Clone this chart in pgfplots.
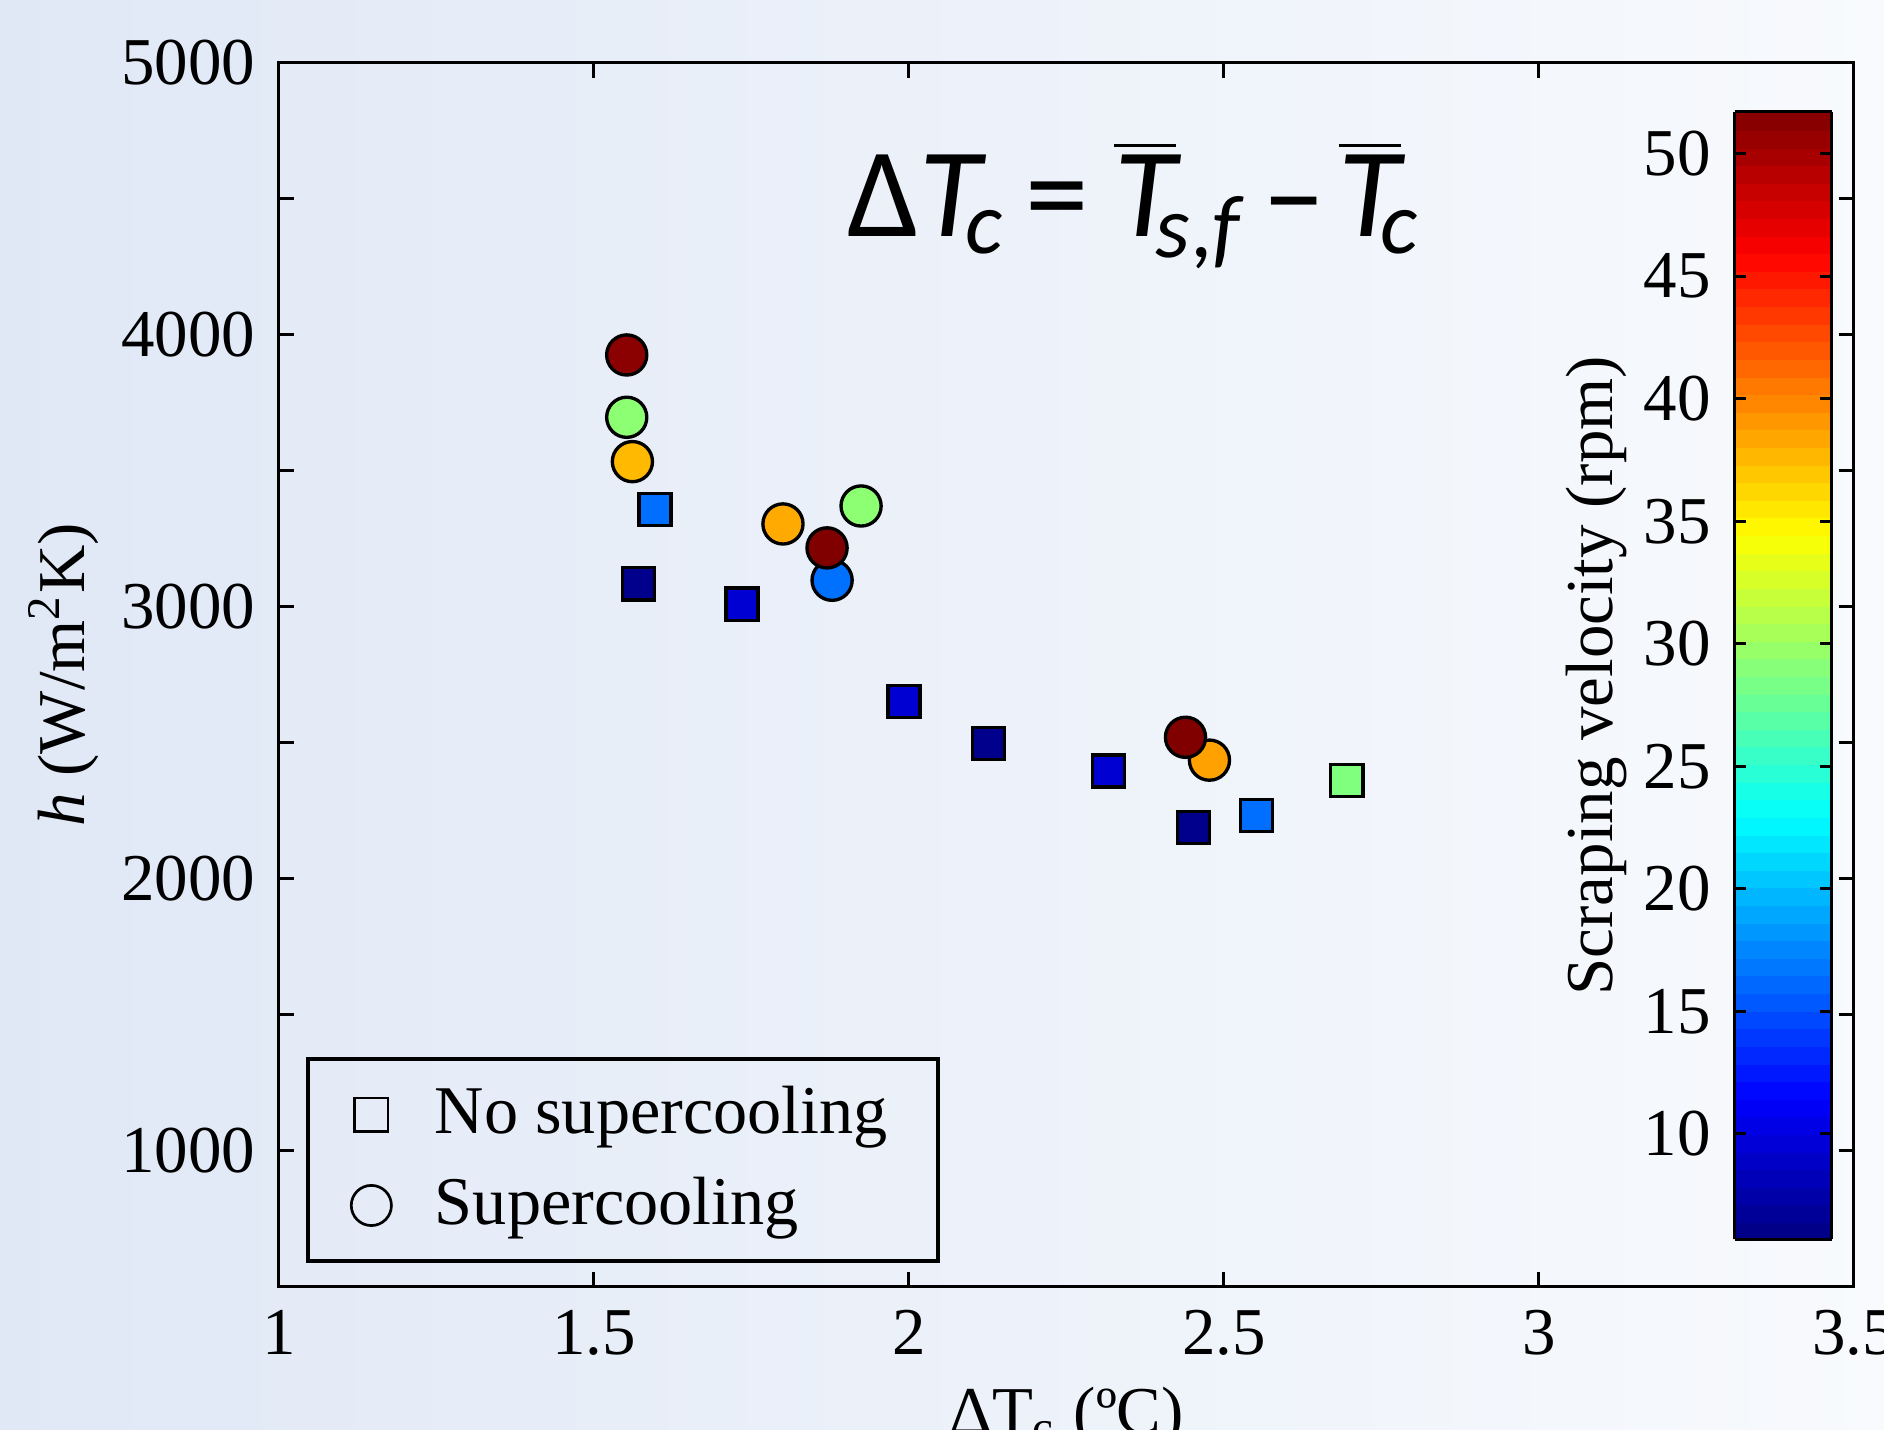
\documentclass[border=0pt]{standalone}
\usepackage{fontspec}
\setmainfont{Liberation Serif}
\newfontfamily\carlito{Carlito}
\usepackage{pgfplots}
\pgfplotsset{compat=1.18}
\usetikzlibrary{backgrounds}
\pgfplotsset{/pgf/number format/assume math mode=true}

\definecolor{bgleft}{RGB}{224,232,246}
\definecolor{bgright}{RGB}{248,250,253}

% x, dT_c ; y, h ; v, scraping velocity (rpm)
\pgfplotstableread{
x     y     v
1.597 3357 16.4
1.571 3084 6.3
1.735 3009 9.4
1.992 2652 9.4
2.126 2498 6.3
2.317 2396 9.4
2.452 2189 6.3
2.552 2233 16.4
2.695 2361 28.7
}\nosuper

\pgfplotstableread{
x     y     v
1.878 3097 16.5
2.477 2436 38.7
1.561 3533 37.6
1.800 3304 38.3
1.924 3370 29.3
1.552 3696 29.3
1.552 3925 51.2
1.870 3216 51.7
2.439 2520 51.7
}\super

\newcommand\barT{$\overline{\hbox{\itshape T}}$}

\begin{document}
\begin{tikzpicture}
\begin{axis}[
  width=8.27cm, height=6.43cm, scale only axis,
  xmin=1, xmax=3.5, ymin=500, ymax=5000,
  xtick={1,1.5,...,3.5},
  ytick={1000,1500,...,5000},
  yticklabels={1000,,2000,,3000,,4000,,5000},
  tick align=inside,
  major tick length=0.08cm,
  axis line style={line width=0.45pt},
  every tick/.style={black, line width=0.45pt},
  xlabel={ΔT\textsubscript{c} (ºC)},
  xlabel shift=-0.08cm,
  ylabel={\textit{h} (W/m\textsuperscript{2}K)},
  ylabel shift=-0.12cm,
  colormap/jet,
  point meta min=5.69, point meta max=51.7,
  colorbar sampled,
  colorbar style={
    at={(parent axis.north east)}, anchor=north east,
    xshift=-0.417cm, yshift=-0.26cm,
    width=0.51cm, height=5.92cm,
    samples=65,
    ytick={10,15,...,50},
    yticklabel pos=left,
    ytick pos=both,
    tick align=inside,
    major tick length=0.06cm,
    axis line style={line width=0.45pt},
    every tick/.style={black, line width=0.45pt},
    ylabel={Scraping velocity (rpm)},
    ylabel shift=-0.15cm,
  },
  legend image code/.code={\draw[#1] plot coordinates {(0.1cm,0cm)};},
  legend style={
    at={(0.017,0.0196)}, anchor=south west,
    draw=black, line width=0.6pt, fill=none,
    font=\fontsize{10.2}{12}\selectfont,
    inner xsep=6.5pt, inner ysep=3pt,
    nodes={inner sep=1pt},
    row sep=3pt,
    /tikz/every odd column/.append style={column sep=5.5pt},
  },
  legend cell align=left,
]
\coordinate (sw) at (rel axis cs:0,0);
\coordinate (ne) at (rel axis cs:1,1);

\addplot[scatter, only marks, mark=square*, mark size=2.4pt,
  scatter src=explicit,
  scatter/use mapped color={draw=black, fill=mapped color},
  mark options={line width=0.5pt}, forget plot]
  table[x=x, y=y, meta=v] {\nosuper};

\addplot[scatter, only marks, mark=*, mark size=3pt,
  scatter src=explicit,
  scatter/use mapped color={draw=black, fill=mapped color},
  mark options={line width=0.5pt}, forget plot]
  table[x=x, y=y, meta=v] {\super};

\addlegendimage{only marks, mark=square, mark size=2.5pt, black, line width=0.4pt}
\addlegendentry{No supercooling\hspace{2pt}}
\addlegendimage{only marks, mark=o, mark size=3pt, black, line width=0.4pt}
\addlegendentry{Supercooling}

\node[anchor=base west, inner sep=0pt, font=\carlito\fontsize{19}{23}\selectfont]
  at (axis cs:1.9,4361)
  {Δ\textit{T}\kern-0.16em\textsubscript{\textit{c}}\hspace{0.15em}=\hspace{0.2em}\barT\kern-0.16em\textsubscript{\textit{s},\textit{f}}\hspace{0.12em}–\hspace{0.1em}\barT\kern-0.16em\textsubscript{\textit{c}}};
\end{axis}
\pgfresetboundingbox
\path[use as bounding box] ([xshift=-1.465cm,yshift=-0.751cm]sw) rectangle ([xshift=0.158cm,yshift=0.328cm]ne);
\begin{scope}[on background layer]
\shade[left color=bgleft, right color=bgright] ([xshift=-1.465cm,yshift=-0.751cm]sw) rectangle ([xshift=0.158cm,yshift=0.328cm]ne);
\end{scope}
\end{tikzpicture}
\end{document}
